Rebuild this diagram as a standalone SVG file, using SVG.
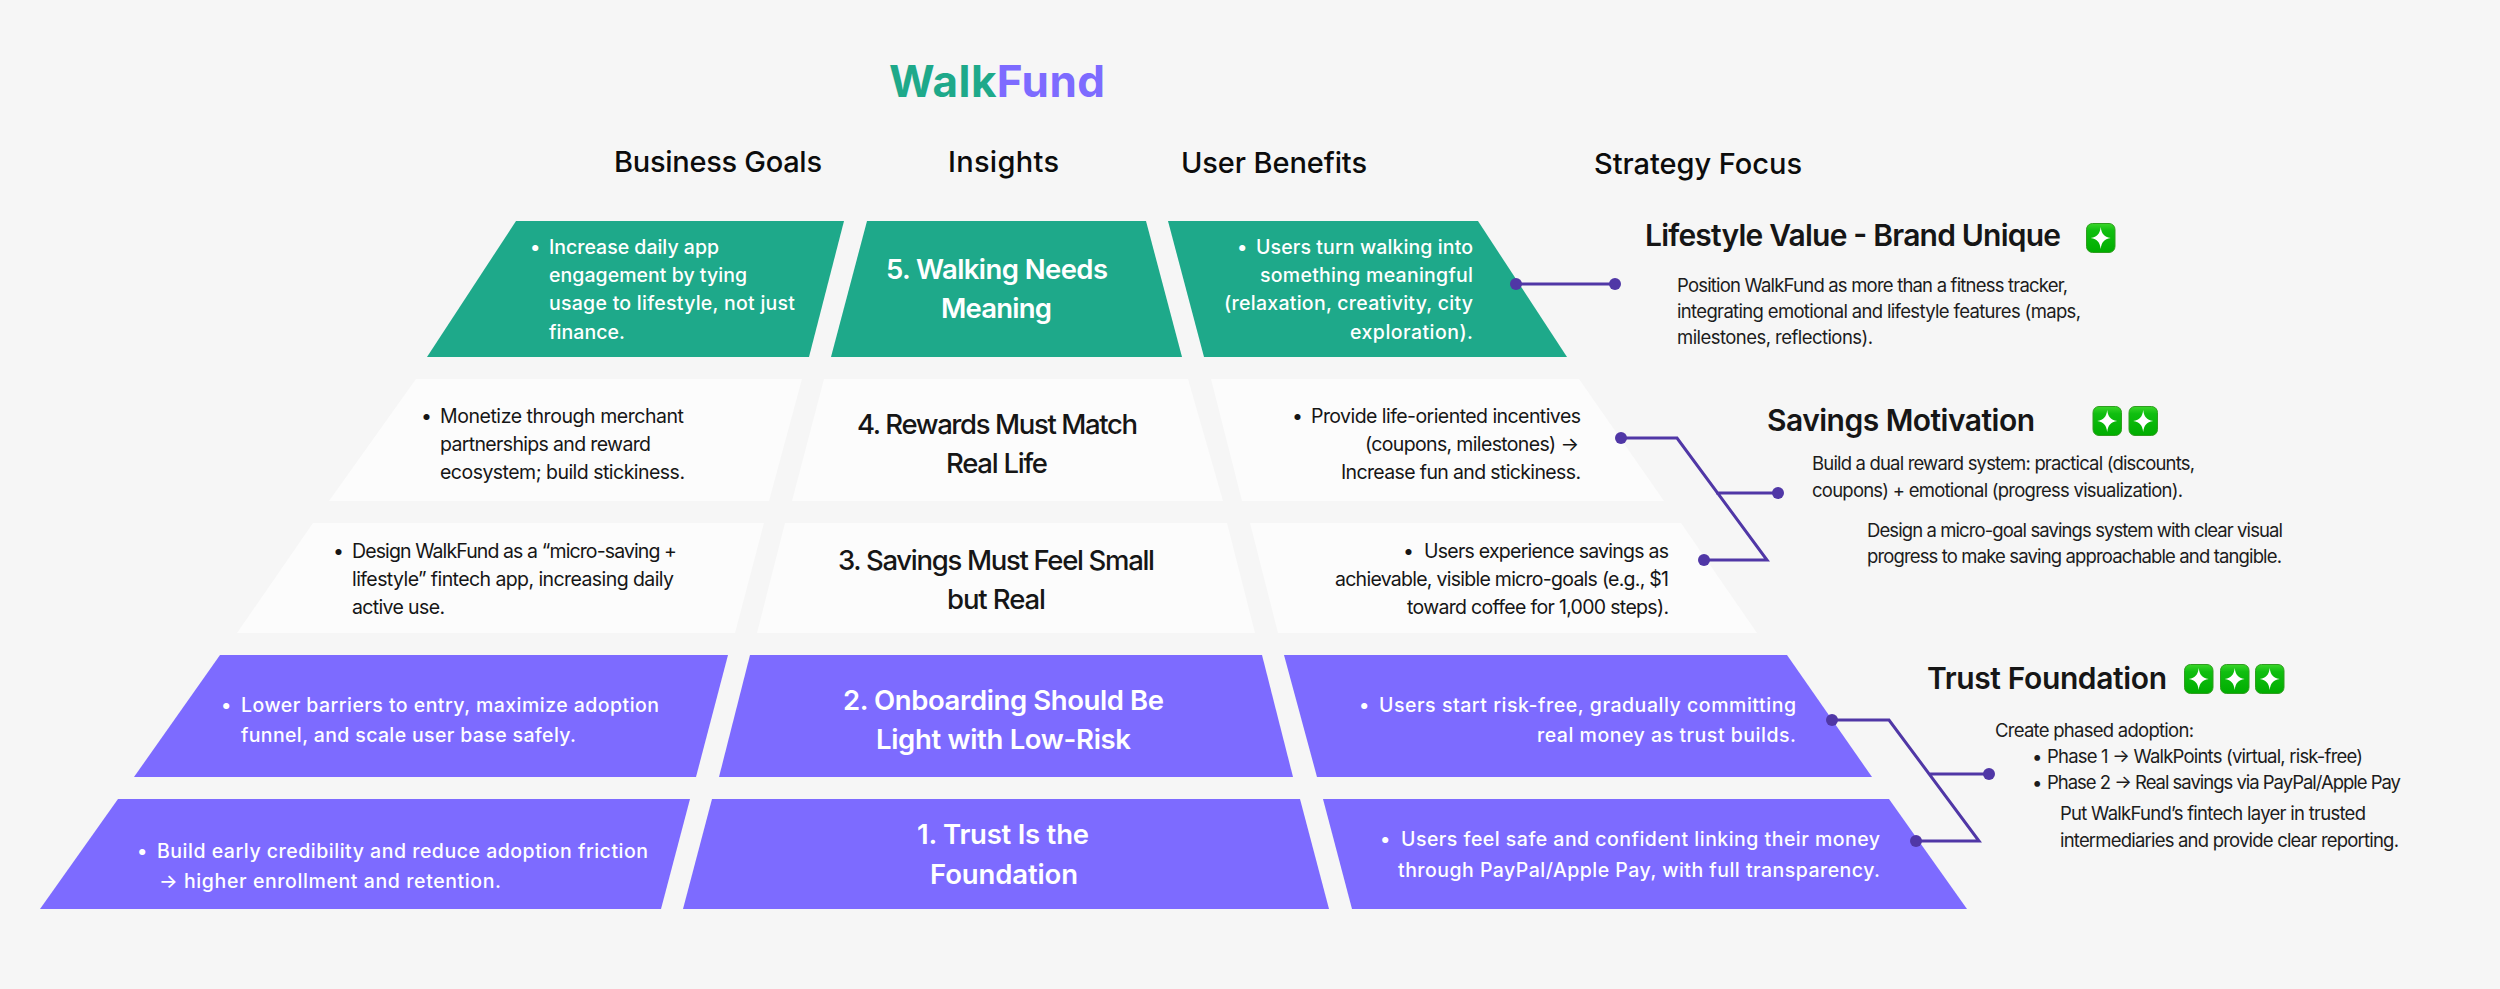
<svg xmlns="http://www.w3.org/2000/svg" width="2500" height="989" viewBox="0 0 2500 989">
<style>
text{font-family:Inter,"Noto Sans","Liberation Sans",sans-serif}
.teal{fill:#1EA98A}.violet{fill:#7D6BFF}.pale{fill:#FCFCFC}
.s{font-size:19.500px;font-weight:500}
.b{font-size:18.500px;font-weight:400;fill:#1c1c1c}
.d{fill:#161616;font-weight:400}.w{fill:#fff}
.c{font-size:27.500px;font-weight:600}
.c.d{font-weight:500}
.h{font-size:29px;font-weight:500;fill:#0c0c0c}
.f{font-size:30px;font-weight:600;fill:#161616}
.wire{fill:none;stroke:#5037A6;stroke-width:3}
.dot{fill:#5037A6}
.gb{fill:url(#gg);stroke:#2F9E1F;stroke-width:1}
.gs{fill:#fff}
</style>
<defs>
<linearGradient id="gg" x1="0" y1="0" x2="0" y2="1"><stop offset="0" stop-color="#3AD62A"/><stop offset="0.25" stop-color="#10BE10"/><stop offset="1" stop-color="#00AD00"/></linearGradient>
<g id="spark"><rect class="gb" x="0.500" y="0.500" width="28.500" height="29" rx="6"/><path class="gs" d="M14.700 4C15.700 11 17.800 13.500 24.700 15C17.800 16.500 15.700 19 14.700 26C13.700 19 11.600 16.500 4.700 15C11.600 13.500 13.700 11 14.700 4Z"/></g>
</defs>
<rect width="2500" height="989" fill="#F6F6F6"/>
<g id="title"><text x="889" y="97" font-size="44" font-weight="700" textLength="216"><tspan class="teal">Walk</tspan><tspan class="violet">Fund</tspan></text></g>
<g id="headers">
<text class="h" x="614" y="172" textLength="208">Business Goals</text>
<text class="h" x="948" y="172" textLength="111">Insights</text>
<text class="h" x="1181" y="173" textLength="186">User Benefits</text>
<text class="h" x="1594" y="174" textLength="208">Strategy Focus</text>
</g>
<g id="row5-goals"><polygon class="teal" points="516,221 844,221 809,357 427,357"/>
<text class="s w" x="530" y="254">•</text>
<text class="s w" x="549" y="254" textLength="170">Increase daily app</text>
<text class="s w" x="549" y="282" textLength="198">engagement by tying</text>
<text class="s w" x="549" y="310" textLength="246">usage to lifestyle, not just</text>
<text class="s w" x="549" y="339" textLength="76">finance.</text></g>
<g id="row5-insight"><polygon class="teal" points="867,221 1146,221 1182,357 831,357"/>
<text class="c w" x="886" y="279" textLength="222">5. Walking Needs</text>
<text class="c w" x="941" y="318" textLength="111">Meaning</text></g>
<g id="row5-benefit"><polygon class="teal" points="1168,221 1478,221 1567,357 1204,357"/>
<text class="s w" x="1237" y="254">•</text>
<text class="s w" x="1256" y="254" textLength="217">Users turn walking into</text>
<text class="s w" x="1260" y="282" textLength="213">something meaningful</text>
<text class="s w" x="1224" y="310" textLength="249">(relaxation, creativity, city</text>
<text class="s w" x="1350" y="339" textLength="123">exploration).</text></g>

<g id="row4-goals"><polygon class="pale" points="416,379 802,379 769,501 329,501"/>
<text class="s d" x="421" y="423">•</text>
<text class="s d" x="440" y="423" textLength="244">Monetize through merchant</text>
<text class="s d" x="440" y="451" textLength="211">partnerships and reward</text>
<text class="s d" x="440" y="479" textLength="245">ecosystem; build stickiness.</text></g>
<g id="row4-insight"><polygon class="pale" points="824,379 1188,379 1223,501 792,501"/>
<text class="c d" x="857" y="434" textLength="281">4. Rewards Must Match</text>
<text class="c d" x="946" y="473" textLength="102">Real Life</text></g>
<g id="row4-benefit"><polygon class="pale" points="1211,379 1579,379 1664,501 1242,501"/>
<text class="s d" x="1292" y="423">•</text>
<text class="s d" x="1311" y="423" textLength="270">Provide life-oriented incentives</text>
<text class="s d" x="1365" y="451" textLength="214">(coupons, milestones) →</text>
<text class="s d" x="1341" y="479" textLength="240">Increase fun and stickiness.</text></g>

<g id="row3-goals"><polygon class="pale" points="313,523 764,523 735,633 237,633"/>
<text class="s d" x="333" y="558">•</text>
<text class="s d" x="352" y="558" textLength="325">Design WalkFund as a “micro-saving +</text>
<text class="s d" x="352" y="586" textLength="322">lifestyle” fintech app, increasing daily</text>
<text class="s d" x="352" y="614" textLength="93">active use.</text></g>
<g id="row3-insight"><polygon class="pale" points="785,523 1227,523 1255,633 757,633"/>
<text class="c d" x="838" y="570" textLength="317">3. Savings Must Feel Small</text>
<text class="c d" x="947" y="609" textLength="99">but Real</text></g>
<g id="row3-benefit"><polygon class="pale" points="1250,523 1681,523 1757,633 1278,633"/>
<text class="s d" x="1403" y="558">•</text>
<text class="s d" x="1424" y="558" textLength="245">Users experience savings as</text>
<text class="s d" x="1335" y="586" textLength="334">achievable, visible micro-goals (e.g., $1</text>
<text class="s d" x="1407" y="614" textLength="262">toward coffee for 1,000 steps).</text></g>

<g id="row2-goals"><polygon class="violet" points="220,655 728,655 696,777 134,777"/>
<text class="s w" x="221" y="712">•</text>
<text class="s w" x="241" y="712" textLength="418">Lower barriers to entry, maximize adoption</text>
<text class="s w" x="241" y="742" textLength="335">funnel, and scale user base safely.</text></g>
<g id="row2-insight"><polygon class="violet" points="750,655 1262,655 1293,777 719,777"/>
<text class="c w" x="843" y="710" textLength="321">2. Onboarding Should Be</text>
<text class="c w" x="876" y="749" textLength="255">Light with Low-Risk</text></g>
<g id="row2-benefit"><polygon class="violet" points="1284,655 1787,655 1872,777 1317,777"/>
<text class="s w" x="1359" y="712">•</text>
<text class="s w" x="1379" y="712" textLength="417">Users start risk-free, gradually committing</text>
<text class="s w" x="1537" y="742" textLength="259">real money as trust builds.</text></g>

<g id="row1-goals"><polygon class="violet" points="118,799 690,799 661,909 40,909"/>
<text class="s w" x="137" y="858">•</text>
<text class="s w" x="157" y="858" textLength="491">Build early credibility and reduce adoption friction</text>
<text class="s w" x="159" y="888" textLength="342">→ higher enrollment and retention.</text></g>
<g id="row1-insight"><polygon class="violet" points="712,799 1300,799 1329,909 683,909"/>
<text class="c w" x="917" y="844" textLength="172">1. Trust Is the</text>
<text class="c w" x="930" y="884" textLength="148">Foundation</text></g>
<g id="row1-benefit"><polygon class="violet" points="1323,799 1889,799 1967,909 1352,909"/>
<text class="s w" x="1380" y="846">•</text>
<text class="s w" x="1401" y="846" textLength="479">Users feel safe and confident linking their money</text>
<text class="s w" x="1398" y="877" textLength="482">through PayPal/Apple Pay, with full transparency.</text></g>

<g id="focus-lifestyle">
<text class="f" x="1645" y="246" textLength="416">Lifestyle Value - Brand Unique</text>
<use href="#spark" x="2086" y="223"/>
<text class="b" x="1677" y="292" textLength="391">Position WalkFund as more than a fitness tracker,</text>
<text class="b" x="1677" y="318" textLength="404">integrating emotional and lifestyle features (maps,</text>
<text class="b" x="1677" y="344" textLength="196">milestones, reflections).</text>
</g>
<g id="focus-savings">
<text class="f" x="1767" y="431" textLength="268">Savings Motivation</text>
<use href="#spark" x="2092.500" y="406"/><use href="#spark" x="2128.500" y="406"/>
<text class="b" x="1812" y="470" textLength="383">Build a dual reward system: practical (discounts,</text>
<text class="b" x="1812" y="497" textLength="371">coupons) + emotional (progress visualization).</text>
<text class="b" x="1867" y="537" textLength="416">Design a micro-goal savings system with clear visual</text>
<text class="b" x="1867" y="563" textLength="415">progress to make saving approachable and tangible.</text>
</g>
<g id="focus-trust">
<text class="f" x="1927" y="689" textLength="240">Trust Foundation</text>
<use href="#spark" x="2184" y="664"/><use href="#spark" x="2220" y="664"/><use href="#spark" x="2255" y="664"/>
<text class="b" x="1995" y="737" textLength="199">Create phased adoption:</text>
<text class="b" x="2032" y="763">•</text>
<text class="b" x="2047" y="763" textLength="316">Phase 1 → WalkPoints (virtual, risk-free)</text>
<text class="b" x="2032" y="789">•</text>
<text class="b" x="2047" y="789" textLength="354">Phase 2 → Real savings via PayPal/Apple Pay</text>
<text class="b" x="2060" y="820" textLength="306">Put WalkFund’s fintech layer in trusted</text>
<text class="b" x="2060" y="847" textLength="339">intermediaries and provide clear reporting.</text>
</g>
<g id="connectors">
<path class="wire" d="M1516 284H1615"/>
<circle class="dot" cx="1516" cy="284" r="6"/><circle class="dot" cx="1615" cy="284" r="6"/>
<path class="wire" d="M1621 438H1677L1767 560H1704M1716 493H1778"/>
<circle class="dot" cx="1621" cy="438" r="6"/><circle class="dot" cx="1704" cy="560" r="6"/><circle class="dot" cx="1778" cy="493" r="6"/>
<path class="wire" d="M1832 720H1889L1979 841H1916M1930 774H1989"/>
<circle class="dot" cx="1832" cy="720" r="6"/><circle class="dot" cx="1916" cy="841" r="6"/><circle class="dot" cx="1989" cy="774" r="6"/>
</g>
</svg>
